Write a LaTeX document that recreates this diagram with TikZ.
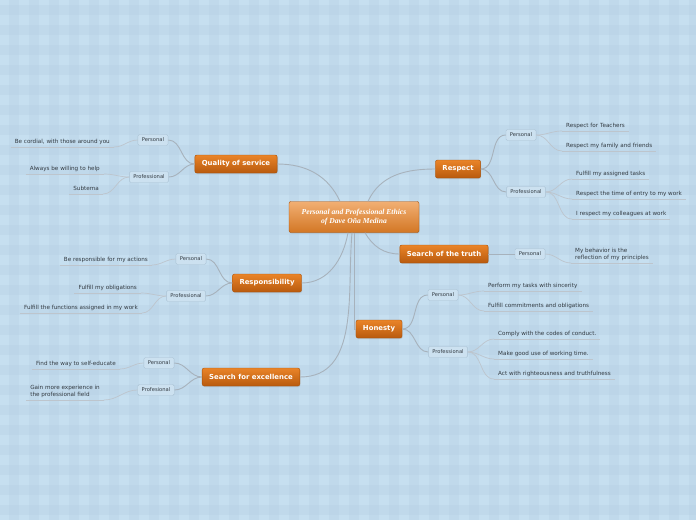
\documentclass[tikz,border=0pt]{standalone}
\usepackage{fontspec}
\setmainfont{DejaVu Sans}
\newfontfamily\titlefont{Liberation Serif}
\usetikzlibrary{shadows}

\definecolor{bgbase}{HTML}{C6DFF0}
\definecolor{bgstripe}{HTML}{B6D0E4}
\definecolor{orangetop}{HTML}{EA8428}
\definecolor{orangebot}{HTML}{B85A0E}
\definecolor{orangeedge}{HTML}{A85008}
\definecolor{linegrey}{HTML}{A7B2BC}
\definecolor{subfill}{HTML}{CCE1F0}
\definecolor{subedge}{HTML}{A9C1D3}
\definecolor{leaftext}{HTML}{333B42}

\tikzset{
  topic/.style={draw=orangeedge, rounded corners=2pt, top color=orangetop, bottom color=orangebot,
    text=white, font=\fontsize{6.9}{8}\selectfont\bfseries, minimum height=18pt, inner xsep=7pt,
    drop shadow={opacity=.25, shadow xshift=.6pt, shadow yshift=-1pt}},
  center/.style={topic, top color=orangetop!65!white, bottom color=orangetop!90!black,
    font=\fontsize{7.6}{8.6}\selectfont\titlefont\bfseries\itshape, align=center,
    minimum height=31pt, minimum width=130pt},
  sub/.style={draw=subedge, fill=subfill, rounded corners=1.5pt, text=leaftext,
    font=\fontsize{5.2}{6}\selectfont, minimum height=11pt, inner xsep=4pt},
  ul/.style={draw=linegrey!75!white, line width=.7pt},
  leaf/.style={text=leaftext, font=\fontsize{5.65}{6.6}\selectfont, inner xsep=4pt, inner ysep=2.6pt,
    text height=4.2pt, text depth=1.2pt,
    append after command={(\tikzlastnode.south west) edge[ul] (\tikzlastnode.south east)}},
  leaftwo/.style={leaf, text height=, text depth=, align=left},
  link/.style={draw=linegrey, line width=.9pt},
}

\begin{document}
\begin{tikzpicture}[x=1pt, y=-1pt]
	\useasboundingbox (0,0) rectangle (696,520);
	\fill[bgbase] (0,0) rectangle (696,520);
	\foreach \x in {-11,9,...,696}
		\fill[bgstripe, opacity=.35] (\x,0) rectangle ++(10,520);
	\foreach \y in {5,25,...,520}
		\fill[bgstripe, opacity=.35] (0,\y) rectangle ++(696,10);

	\node[center] (ethics) at (354,217) {Personal and Professional Ethics\\of Dave Oña Medina};

	\node[topic] (quality) at (236,164) {Quality of service};
	\node[topic] (responsibility) at (267,283) {Responsibility};
	\node[topic] (excellence) at (251,377) {Search for excellence};
	\node[topic] (respect) at (458,169) {Respect};
	\node[topic] (truth) at (444,254) {Search of the truth};
	\node[topic] (honesty) at (379,329) {Honesty};

	\node[sub] (qualityper) at (153,140) {Personal};
	\node[sub] (qualitypro) at (149,177) {Professional};
	\node[sub] (respper) at (191,259) {Personal};
	\node[sub] (resppro) at (186,296) {Professional};
	\node[sub] (excper) at (159,363) {Personal};
	\node[sub] (excpro) at (156,390) {Profesional};
	\node[sub] (respectper) at (521,135) {Personal};
	\node[sub] (respectpro) at (526,192) {Professional};
	\node[sub] (truthper) at (530,254) {Personal};
	\node[sub] (honper) at (443,295) {Personal};
	\node[sub] (honpro) at (448,352) {Professional};

	\node[leaf, anchor=south east] (cordial) at (114,147) {Be cordial, with those around you};
	\node[leaf, anchor=south east] (willing) at (104,174) {Always be willing to help};
	\node[leaf, anchor=south east] (subtema) at (103,194) {Subtema};
	\node[leaf, anchor=south east] (actions) at (152,265) {Be responsible for my actions};
	\node[leaf, anchor=south east] (obligations) at (141,293) {Fulfill my obligations};
	\node[leaf, anchor=south east] (functions) at (142,313) {Fulfill the functions assigned in my work};
	\node[leaf, anchor=south east] (selfedu) at (120,369) {Find the way to self-educate};
	\node[leaftwo, anchor=south east] (experience) at (104,400) {Gain more experience in\\the professional field};

	\node[leaf, anchor=south west] (teachers) at (562,131) {Respect for Teachers};
	\node[leaf, anchor=south west] (family) at (562,151) {Respect my family and friends};
	\node[leaf, anchor=south west] (tasks) at (572,179) {Fulfill my assigned tasks};
	\node[leaf, anchor=south west] (entry) at (572,199) {Respect the time of entry to my work};
	\node[leaf, anchor=south west] (colleagues) at (572,219) {I respect my colleagues at work};
	\node[leaftwo, anchor=south west] (behavior) at (571,263) {My behavior is the\\reflection of my principles};
	\node[leaf, anchor=south west] (sincerity) at (484,291) {Perform my tasks with sincerity};
	\node[leaf, anchor=south west] (commitments) at (484,311) {Fulfill commitments and obligations};
	\node[leaf, anchor=south west] (codes) at (494,339) {Comply with the codes of conduct.};
	\node[leaf, anchor=south west] (worktime) at (494,359) {Make good use of working time.};
	\node[leaf, anchor=south west] (righteous) at (494,379) {Act with righteousness and truthfulness};

	\draw[link] ([xshift=-14pt]ethics.north) to[out=115,in=0] (quality.east);
	\draw[link] ([xshift=14pt]ethics.north) to[out=65,in=180] (respect.west);
	\draw[link] ([xshift=11pt]ethics.south) to[out=-60,in=180] (truth.west);
	\draw[link] (ethics.south) |- (honesty.west);
	\draw[link] ([xshift=-6pt]ethics.south) to[out=-100,in=0] (responsibility.east);
	\draw[link] ([xshift=-2pt]ethics.south) to[out=-95,in=0] (excellence.east);

	\draw[link] (quality.west) to[out=180,in=0] (qualityper.east);
	\draw[link] (quality.west) to[out=180,in=0] (qualitypro.east);
	\draw[link] (responsibility.west) to[out=180,in=0] (respper.east);
	\draw[link] (responsibility.west) to[out=180,in=0] (resppro.east);
	\draw[link] (excellence.west) to[out=180,in=0] (excper.east);
	\draw[link] (excellence.west) to[out=180,in=0] (excpro.east);
	\draw[link] (respect.east) to[out=0,in=180] (respectper.west);
	\draw[link] (respect.east) to[out=0,in=180] (respectpro.west);
	\draw[link] (truth.east) -- (truthper.west);
	\draw[link] (honesty.east) to[out=0,in=180] (honper.west);
	\draw[link] (honesty.east) to[out=0,in=180] (honpro.west);

	\draw[ul] (qualityper.west) to[out=180,in=0] (cordial.south east);
	\draw[ul] (qualitypro.west) to[out=180,in=0] (willing.south east);
	\draw[ul] (qualitypro.west) to[out=180,in=0] (subtema.south east);
	\draw[ul] (respper.west) to[out=180,in=0] (actions.south east);
	\draw[ul] (resppro.west) to[out=180,in=0] (obligations.south east);
	\draw[ul] (resppro.west) to[out=180,in=0] (functions.south east);
	\draw[ul] (excper.west) to[out=180,in=0] (selfedu.south east);
	\draw[ul] (excpro.west) to[out=180,in=0] (experience.south east);
	\draw[ul] (respectper.east) to[out=0,in=180] (teachers.south west);
	\draw[ul] (respectper.east) to[out=0,in=180] (family.south west);
	\draw[ul] (respectpro.east) to[out=0,in=180] (tasks.south west);
	\draw[ul] (respectpro.east) to[out=0,in=180] (entry.south west);
	\draw[ul] (respectpro.east) to[out=0,in=180] (colleagues.south west);
	\draw[ul] (truthper.east) to[out=0,in=180] (behavior.south west);
	\draw[ul] (honper.east) to[out=0,in=180] (sincerity.south west);
	\draw[ul] (honper.east) to[out=0,in=180] (commitments.south west);
	\draw[ul] (honpro.east) to[out=0,in=180] (codes.south west);
	\draw[ul] (honpro.east) to[out=0,in=180] (worktime.south west);
	\draw[ul] (honpro.east) to[out=0,in=180] (righteous.south west);
\end{tikzpicture}
\end{document}
